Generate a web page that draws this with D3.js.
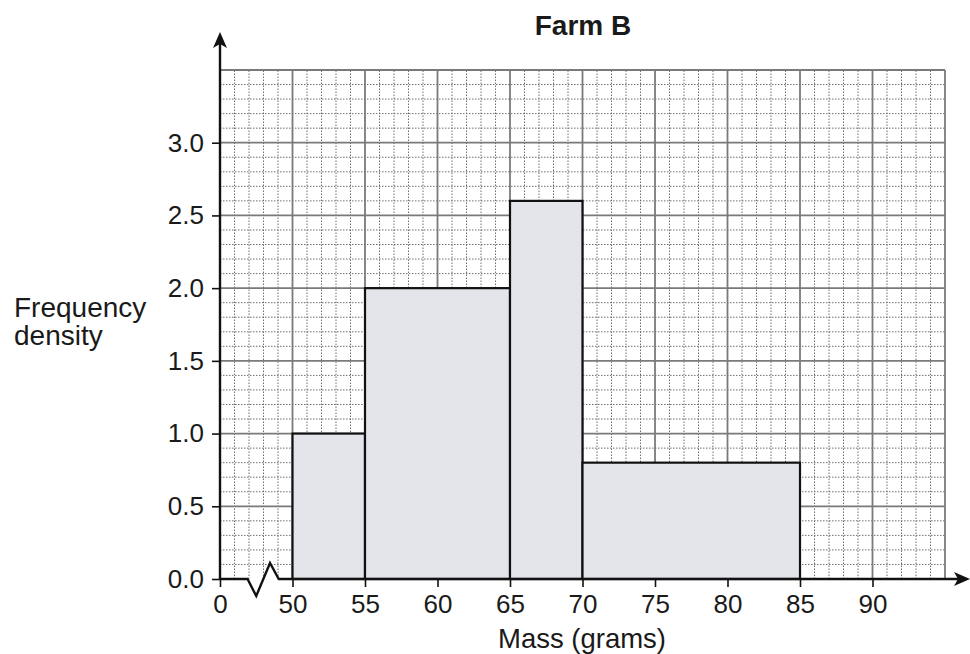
<!DOCTYPE html>
<html>
<head>
<meta charset="utf-8">
<script src="https://cdn.jsdelivr.net/npm/d3@7"></script>
<style>
  body { margin: 0; background: #fff; }
  text { font-family: "Liberation Sans", Arial, sans-serif; fill: #1a1a1a; }
</style>
</head>
<body>
<div id="container"></div>
<script>
// histogram classes (grams) and frequency density
const binStart = [50, 55, 65, 70];
const binEnd = [55, 65, 70, 85];
const density = [1.0, 2.0, 2.6, 0.8];

// x axis: the first tick stands for 0, the axis is broken before 50
const xTicks = [45, 50, 55, 60, 65, 70, 75, 80, 85, 90];
const xTickLabels = ["0", "50", "55", "60", "65", "70", "75", "80", "85", "90"];
const yTicks = [0, 0.5, 1.0, 1.5, 2.0, 2.5, 3.0];

const w = 970;
const h = 654;
const svg = d3.select("#container")
  .append("svg")
  .attr("width", w)
  .attr("height", h);

const xScale = d3.scaleLinear().domain([45, 95]).range([220, 945]);
const yScale = d3.scaleLinear().domain([0, 3.5]).range([579, 70]);

// graph paper
const minorX = d3.range(46, 95).filter((d) => d % 5 !== 0);
const majorX = d3.range(50, 96, 5);
const minorY = d3.range(1, 35).filter((d) => d % 5 !== 0).map((d) => d / 10);
const majorY = d3.range(5, 36, 5).map((d) => d / 10);

const grid = svg.append("g").attr("id", "grid");
grid.selectAll(".minor-x")
  .data(minorX)
  .enter()
  .append("line")
  .attr("x1", (d) => xScale(d)).attr("x2", (d) => xScale(d))
  .attr("y1", yScale(0)).attr("y2", yScale(3.5))
  .attr("stroke", "#6e6e6e").attr("stroke-width", 1)
  .attr("stroke-dasharray", "1.5,1.5");
grid.selectAll(".minor-y")
  .data(minorY)
  .enter()
  .append("line")
  .attr("x1", xScale(45)).attr("x2", xScale(95))
  .attr("y1", (d) => yScale(d)).attr("y2", (d) => yScale(d))
  .attr("stroke", "#6e6e6e").attr("stroke-width", 1)
  .attr("stroke-dasharray", "1.5,1.5");
grid.selectAll(".major-x")
  .data(majorX)
  .enter()
  .append("line")
  .attr("x1", (d) => xScale(d)).attr("x2", (d) => xScale(d))
  .attr("y1", yScale(0)).attr("y2", yScale(3.5))
  .attr("stroke", "#7a7a7a").attr("stroke-width", 1.8);
grid.selectAll(".major-y")
  .data(majorY)
  .enter()
  .append("line")
  .attr("x1", xScale(45)).attr("x2", xScale(95))
  .attr("y1", (d) => yScale(d)).attr("y2", (d) => yScale(d))
  .attr("stroke", "#7a7a7a").attr("stroke-width", 1.8);

// bars
const bins = binStart.map((s, i) => ({ start: s, end: binEnd[i], fd: density[i] }));
svg.selectAll("rect.bar")
  .data(bins)
  .enter()
  .append("rect")
  .attr("class", "bar")
  .attr("x", (d) => xScale(d.start))
  .attr("y", (d) => yScale(d.fd))
  .attr("width", (d) => xScale(d.end) - xScale(d.start))
  .attr("height", (d) => yScale(0) - yScale(d.fd))
  .attr("fill", "#e3e5ea")
  .attr("stroke", "#111")
  .attr("stroke-width", 2.2);

// axes
const xAxis = d3.axisBottom(xScale)
  .tickValues(xTicks)
  .tickSize(8)
  .tickPadding(8)
  .tickFormat((d, i) => xTickLabels[i]);
const gx = svg.append("g")
  .attr("transform", "translate(0, " + yScale(0) + ")")
  .attr("id", "x-axis")
  .call(xAxis);
gx.select(".domain").remove();
gx.selectAll("line").attr("stroke", "#111").attr("stroke-width", 1.6);
gx.selectAll("text").style("font-size", "26px").attr("fill", "#1a1a1a");

const yAxis = d3.axisLeft(yScale)
  .tickValues(yTicks)
  .tickSize(8)
  .tickPadding(8)
  .tickFormat(d3.format(".1f"));
const gy = svg.append("g")
  .attr("transform", "translate(" + xScale(45) + ", 0)")
  .attr("id", "y-axis")
  .call(yAxis);
gy.select(".domain").remove();
gy.selectAll("line").attr("stroke", "#111").attr("stroke-width", 1.6);
gy.selectAll("text").style("font-size", "26px").attr("fill", "#1a1a1a");

// axis lines with break and arrows
const y0 = yScale(0);
svg.append("path")
  .attr("d", "M" + xScale(45) + "," + y0 +
    "H" + xScale(46.9) +
    "L" + xScale(47.5) + "," + (y0 + 17) +
    "L" + xScale(48.45) + "," + (y0 - 16) +
    "L" + xScale(49.05) + "," + y0 +
    "H" + 962)
  .attr("fill", "none")
  .attr("stroke", "#111")
  .attr("stroke-width", 2.4);
svg.append("path")
  .attr("d", "M" + (970) + "," + y0 + "l-16,-7 l4,7 l-4,7 z")
  .attr("fill", "#111");

svg.append("line")
  .attr("x1", xScale(45)).attr("x2", xScale(45))
  .attr("y1", y0).attr("y2", 42)
  .attr("stroke", "#111")
  .attr("stroke-width", 2.4);
svg.append("path")
  .attr("d", "M" + xScale(45) + ",32 l-7,16 l7,-4 l7,4 z")
  .attr("fill", "#111");

// titles
svg.append("text")
  .attr("x", 583)
  .attr("y", 35)
  .attr("text-anchor", "middle")
  .style("font-size", "28px")
  .style("font-weight", "bold")
  .text("Farm B");

svg.append("text")
  .attr("x", 582)
  .attr("y", 648)
  .attr("text-anchor", "middle")
  .style("font-size", "27.5px")
  .text("Mass (grams)");

const yLabel = svg.append("text")
  .style("font-size", "28px");
yLabel.append("tspan").attr("x", 14).attr("y", 317).text("Frequency");
yLabel.append("tspan").attr("x", 14).attr("y", 345).text("density");
</script>
</body>
</html>
